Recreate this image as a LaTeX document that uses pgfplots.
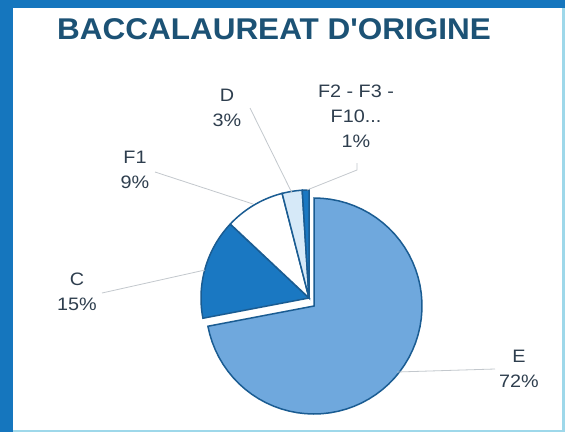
\documentclass[border=0pt]{standalone}
\usepackage{pgfplots}
\pgfplotsset{compat=1.18}
\usepackage{fontspec}
\setmainfont{Liberation Sans}

\definecolor{frameblue}{HTML}{1576BE}
\definecolor{edgecyan}{HTML}{9ED8EA}
\definecolor{titleblue}{HTML}{1C5275}
\definecolor{eblue}{HTML}{6FA8DD}
\definecolor{cblue}{HTML}{1A78C2}
\definecolor{dblue}{HTML}{D6E9F8}
\definecolor{edgeblue}{HTML}{1A5C92}
\definecolor{labelgrey}{HTML}{2E3E4E}
\definecolor{leader}{HTML}{C3C8CD}

\tikzset{lbl/.style={font=\fontsize{18}{25}\selectfont, text=labelgrey,
    align=center, xscale=1.1}}

% shares in percent, 1% = 3.6 degrees, clockwise from 12 o'clock
% E 72, C 15, F1 9, D 3, F2-F3-F10... 1

\begin{document}
\begin{tikzpicture}
\begin{axis}[
    scale only axis,
    width=565pt, height=432pt,
    xmin=0, xmax=565, ymin=0, ymax=432,
    y dir=reverse,
    hide axis, clip=false,
    samples=60, variable=\t,
  ]

  % frame: blue band left and top, thin cyan edge right and bottom
  \fill[edgecyan] (axis cs:0,0) rectangle (axis cs:565,432);
  \fill[frameblue] (axis cs:0,0) rectangle (axis cs:565,8);
  \fill[frameblue] (axis cs:0,0) rectangle (axis cs:13,432);
  \fill[white] (axis cs:13,8) rectangle (axis cs:562,430);

  % E (exploded towards lower right)
  \addplot[draw=edgeblue, line width=1.5pt, fill=eblue, domain={90-3.6*72}:90]
    ({314+108*cos(\t)}, {306-108*sin(\t)}) -- (axis cs:314,306) -- cycle;
  % C
  \addplot[draw=edgeblue, line width=1.5pt, fill=cblue, domain={90-3.6*87}:{90-3.6*72}]
    ({309+108*cos(\t)}, {298-108*sin(\t)}) -- (axis cs:309,298) -- cycle;
  % F1
  \addplot[draw=edgeblue, line width=1.5pt, fill=white, domain={90-3.6*96}:{90-3.6*87}]
    ({309+108*cos(\t)}, {298-108*sin(\t)}) -- (axis cs:309,298) -- cycle;
  % D
  \addplot[draw=edgeblue, line width=1.5pt, fill=dblue, domain={90-3.6*99}:{90-3.6*96}]
    ({309+108*cos(\t)}, {298-108*sin(\t)}) -- (axis cs:309,298) -- cycle;
  % F2 - F3 - F10...
  \addplot[draw=edgeblue, line width=1.5pt, fill=cblue, domain={90-3.6*100}:{90-3.6*99}]
    ({309+108*cos(\t)}, {298-108*sin(\t)}) -- (axis cs:309,298) -- cycle;

  % leader lines
  \draw[leader, line width=0.8pt] (axis cs:397,372) -- (axis cs:495,369);
  \draw[leader, line width=0.8pt] (axis cs:102,293) -- (axis cs:205,270);
  \draw[leader, line width=0.8pt] (axis cs:155,172) -- (axis cs:253,204);
  \draw[leader, line width=0.8pt] (axis cs:250,108) -- (axis cs:292,193);
  \draw[leader, line width=0.8pt] (axis cs:357,163) -- (axis cs:357,170) -- (axis cs:307,190);

  % labels
  \node[lbl] at (axis cs:519,369) {E\\72\%};
  \node[lbl] at (axis cs:77,292) {C\\15\%};
  \node[lbl] at (axis cs:135,170) {F1\\9\%};
  \node[lbl] at (axis cs:227,108) {D\\3\%};
  \node[lbl] at (axis cs:356,116) {F2 - F3 -\\F10...\\1\%};

  % title
  \node[font=\fontsize{30}{32}\selectfont\bfseries, text=titleblue, xscale=1.05]
    at (axis cs:274,29) {BACCALAUREAT D\textquotesingle ORIGINE};
\end{axis}
\end{tikzpicture}
\end{document}
